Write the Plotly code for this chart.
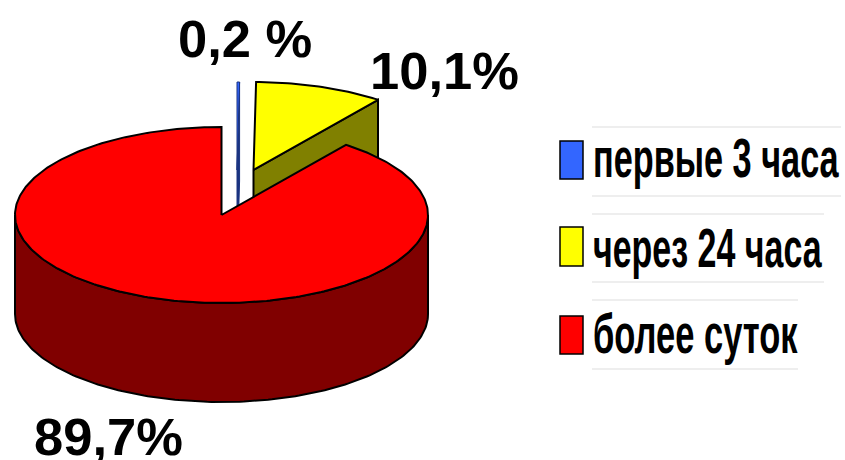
import json
import numpy as np
import plotly.graph_objects as go

categories = ["первые 3 часа", "через 24 часа", "более суток"]
values = [0.2, 10.1, 89.7]
value_labels = ["0,2 %", "10,1%", "89,7%"]
top_colors = ["#3366ff", "#ffff00", "#ff0000"]
side_colors = ["#1a3380", "#808000", "#800000"]
line_colors = ["#1a3380", "black", "black"]

CX, CY, RX, RY, DEPTH = 221.5, 215, 206.5, 88, 99
OFFSETS = [(15.5, -45), (32, -45), (0, 0)]
LABEL_POS = [(245, 38), (444.5, 70), (108, 436)]
LEG_TEXT = [(593, 158), (593, 248), (593, 334)]
LEG_SW = [(560, 141, 583, 179), (560, 227, 583, 266), (560, 316, 583, 354)]
LEG_RULE = [(592, 841, 127, 196), (592, 824, 214, 282), (592, 798, 300, 369)]
LEG_WIDTHS = [246, 229, 205]
LEG_FONT = 55
OUTLINE = [1, 2, 2]

fractions = np.array(values) / sum(values)
edges = np.concatenate([[0], np.cumsum(fractions)]) * 2 * np.pi


def rim(a, ox, oy):
    return CX + ox + RX * np.sin(a), CY + oy - RY * np.cos(a)


fig = go.Figure()


def poly(xs, ys, color, i):
    fig.add_trace(go.Scatter(x=list(xs), y=list(ys), mode="lines", fill="toself",
                             fillcolor=color, line=dict(color=line_colors[i], width=OUTLINE[i]),
                             hoverinfo="skip", showlegend=False))


for i in range(3):
    ox, oy = OFFSETS[i]
    a0, a1 = edges[i], edges[i + 1]
    ax, ay = CX + ox, CY + oy
    ex, ey = rim(a1, ox, oy)
    if i < 2:
        poly([ax, ex, ex, ax, ax], [ay, ey, ey + DEPTH, ay + DEPTH, ay], side_colors[i], i)
    lo, hi = max(a0, np.pi / 2), min(a1, 3 * np.pi / 2)
    if hi > lo:
        t = np.linspace(lo, hi, 160)
        rx_, ry_ = rim(t, ox, oy)
        poly(np.r_[rx_, rx_[::-1], rx_[0]], np.r_[ry_, ry_[::-1] + DEPTH, ry_[0]], side_colors[i], i)
    t = np.linspace(a0, a1, max(int((a1 - a0) * 60), 4))
    rx_, ry_ = rim(t, ox, oy)
    poly(np.r_[ax, rx_, ax], np.r_[ay, ry_, ay], top_colors[i], i)

shapes = []
annotations = []
for i, name in enumerate(categories):
    x0, y0, x1, y1 = LEG_SW[i]
    shapes.append(dict(type="rect", xref="x", yref="y", x0=x0, y0=y0, x1=x1, y1=y1,
                       fillcolor=top_colors[i], line=dict(color="black", width=1.5)))
    rx0, rx1, ry0, ry1 = LEG_RULE[i]
    for ry in (ry0, ry1):
        shapes.append(dict(type="line", xref="x", yref="y", x0=rx0, x1=rx1, y0=ry, y1=ry,
                           line=dict(color="#dddddd", width=1)))
    annotations.append(dict(x=LEG_TEXT[i][0], y=LEG_TEXT[i][1], text=f"<b>{name}</b>", showarrow=False,
                            xanchor="left", yanchor="middle", xref="x", yref="y",
                            font=dict(family="Liberation Sans", size=LEG_FONT, color="black")))
    annotations.append(dict(x=LABEL_POS[i][0], y=LABEL_POS[i][1], text=f"<b>{value_labels[i]}</b>",
                            showarrow=False, xanchor="center", yanchor="middle", xref="x", yref="y",
                            font=dict(family="Liberation Sans", size=52.5, color="black")))

fig.update_layout(width=845, height=460, margin=dict(l=0, r=0, t=0, b=0),
                  paper_bgcolor="white", plot_bgcolor="white",
                  xaxis=dict(range=[0, 845], visible=False, fixedrange=True),
                  yaxis=dict(range=[460, 0], visible=False, fixedrange=True),
                  shapes=shapes, annotations=annotations, showlegend=False)

# The page has a default body margin; the legend font is a horizontally squeezed bold face.
post = """
document.body.style.margin = '0';
var names = %s, widths = %s, left = %s;
document.querySelectorAll('text.annotation-text').forEach(function (t) {
  var i = names.indexOf(t.textContent);
  if (i < 0) return;
  var b = t.getBBox();
  var s = widths[i] / b.width;
  t.setAttribute('transform', 'translate(' + b.x + ',0) scale(' + s + ',1) translate(' + (-b.x) + ',0)');
  var pb = t.getBoundingClientRect();
  t.setAttribute('transform', 'translate(' + (left - pb.left) + ',0) ' + t.getAttribute('transform'));
});
""" % (json.dumps(categories, ensure_ascii=False), json.dumps(LEG_WIDTHS), LEG_TEXT[0][0])
fig.write_html("out.html", config=dict(displayModeBar=False), post_script=post)
